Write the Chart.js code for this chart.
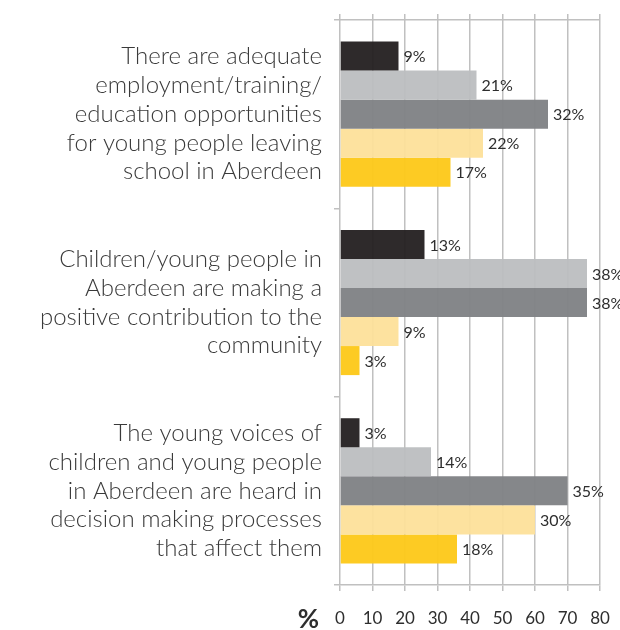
<!DOCTYPE html>
<html>
<head>
<meta charset="utf-8">
<script src="https://cdn.jsdelivr.net/npm/chart.js@4"></script>
<style>
  html, body { margin: 0; padding: 0; background: #ffffff; }
  #wrap { width: 620px; height: 630px; }
</style>
</head>
<body>
<div id="wrap"><canvas id="chart" width="620" height="630"></canvas></div>
<script>
// Survey statements (multi-line labels)
const statements = [
  ["There are adequate", "employment/training/", "education opportunities", "for young people leaving", "school in Aberdeen"],
  ["Children/young people in", "Aberdeen are making a", "positive contribution to the", "community"],
  ["The young voices of", "children and young people", "in Aberdeen are heard in", "decision making processes", "that affect them"]
];

// Response shares, in percent
const stronglyAgree    = [9, 13, 3];
const agree            = [21, 38, 14];
const neutral          = [32, 38, 35];
const disagree         = [22, 9, 30];
const stronglyDisagree = [17, 3, 18];

const seriesNames  = ["Strongly agree", "Agree", "Neither agree nor disagree", "Disagree", "Strongly disagree"];
const seriesColors = ["rgba(35,31,32,0.95)", "rgba(188,190,192,0.95)", "rgba(128,130,133,0.96)", "rgba(253,224,154,0.95)", "rgba(253,201,26,0.96)"];

// Axis tick values shown under the chart
const axisTicks = [0, 10, 20, 30, 40, 50, 60, 70, 80];

const GRID = "#c0c0c0";
const TEXT = "#2e2e2e";
const FONT = "Lato, 'Open Sans', sans-serif";

const seriesValues = [stronglyAgree, agree, neutral, disagree, stronglyDisagree];

// Percentage written just past the end of each bar
const valueLabels = {
  id: "valueLabels",
  afterDatasetsDraw(chart) {
    const ctx = chart.ctx;
    ctx.save();
    ctx.font = "400 16px " + FONT;
    ctx.fillStyle = TEXT;
    ctx.textAlign = "left";
    ctx.textBaseline = "middle";
    chart.data.datasets.forEach((ds, di) => {
      chart.getDatasetMeta(di).data.forEach((bar, i) => {
        ctx.fillText(ds.data[i] + "%", bar.x + 5, bar.y + 1);
      });
    });
    ctx.restore();
  }
};

// "%" unit marker to the left of the bottom tick labels
const unitMarker = {
  id: "unitMarker",
  afterDraw(chart) {
    const ctx = chart.ctx;
    const area = chart.chartArea;
    ctx.save();
    ctx.font = "bold 26px " + FONT;
    ctx.fillStyle = "#2e2e2e";
    ctx.textAlign = "right";
    ctx.textBaseline = "middle";
    ctx.fillText("%", area.left - 21, area.bottom + 35);
    ctx.restore();
  }
};

// keep the plot box fixed: no extra room reserved for overhanging labels
function noOverhang(scale) {
  scale.paddingTop = 0;
  scale.paddingBottom = 0;
  scale.paddingLeft = 0;
  scale.paddingRight = 0;
}

new Chart(document.getElementById("chart"), {
  type: "bar",
  data: {
    labels: statements,
    datasets: seriesValues.map((vals, i) => ({
      label: seriesNames[i],
      data: vals,
      backgroundColor: seriesColors[i],
      borderWidth: 0,
      barPercentage: 1,
      categoryPercentage: 0.771
    }))
  },
  plugins: [valueLabels, unitMarker],
  options: {
    indexAxis: "y",
    responsive: false,
    devicePixelRatio: 1,
    animation: false,
    layout: { padding: { top: 14, right: 20, left: 0, bottom: 0 } },
    plugins: {
      legend: { display: false },
      tooltip: { enabled: false }
    },
    scales: {
      x: {
        position: "bottom",
        min: 0,
        max: 40,
        afterBuildTicks(scale) {
          scale.ticks = axisTicks.map(v => ({ value: v / 2 }));
        },
        ticks: {
          callback: v => String(v * 2),
          color: TEXT,
          font: { family: FONT, size: 17, weight: "400" },
          padding: 17,
          maxRotation: 0
        },
        grid: { color: GRID, lineWidth: 1.5, tickLength: 6, tickColor: GRID },
        border: { display: true, color: GRID, width: 1.5 },
        afterFit(scale) { scale.height = 45; noOverhang(scale); }
      },
      xTop: {
        position: "top",
        axis: "x",
        min: 0,
        max: 40,
        afterBuildTicks(scale) {
          scale.ticks = axisTicks.map(v => ({ value: v / 2 }));
        },
        ticks: { display: false },
        grid: { drawOnChartArea: false, color: GRID, lineWidth: 1.5, tickLength: 6, tickColor: GRID },
        border: { display: false },
        afterFit(scale) { scale.height = 6; noOverhang(scale); }
      },
      y: {
        offset: true,
        grid: {
          offset: true,
          lineWidth: 1.5,
          tickLength: 6,
          tickColor: GRID,
          color: ctx => (ctx.index === 0 ? GRID : "rgba(0,0,0,0)")
        },
        border: { display: false },
        ticks: {
          color: "#3a3a3a",
          padding: 12,
          font: { family: FONT, size: 24, weight: "300", lineHeight: 1.196 }
        },
        afterFit(scale) { scale.width = 340; noOverhang(scale); }
      }
    }
  }
});
</script>
</body>
</html>
